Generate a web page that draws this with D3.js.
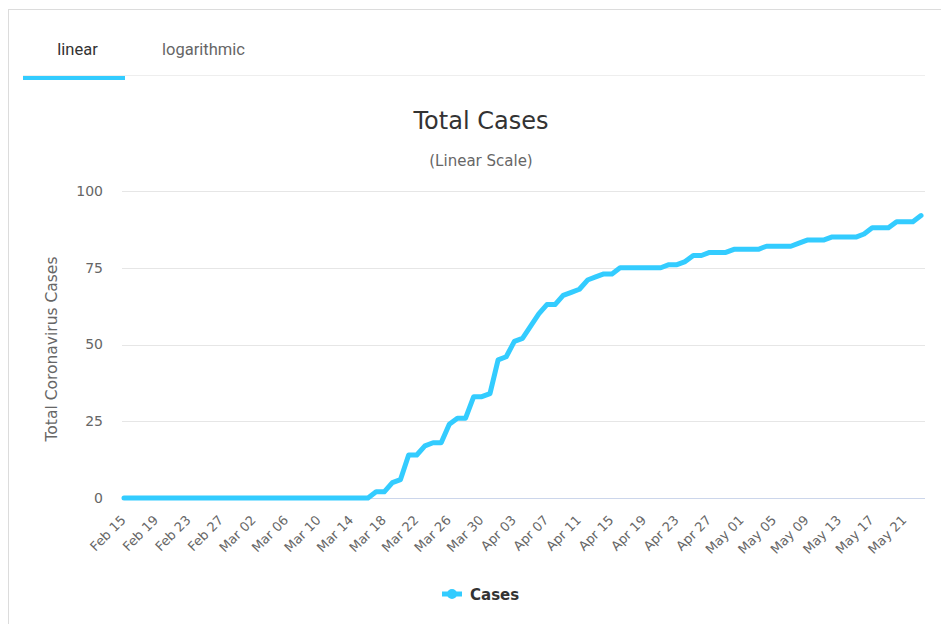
<!DOCTYPE html>
<html>
<head>
<meta charset="utf-8">
<script src="https://cdn.jsdelivr.net/npm/d3@7"></script>
<style>
  body { margin: 0; background: #fff; }
  svg { display: block; }
</style>
</head>
<body>
<div id="chart"></div>
<script>
// data
const startDate = "2020-02-15";
const cases = [
  0,0,0,0,0,0,0,0,0,0, 0,0,0,0,0,0,0,0,0,0, 0,0,0,0,0,0,0,0,0,0, 0,
  2,2,5,6,14,14,17,18,18,24,
  26,26,33,33,34,45,46,51,52,56,
  60,63,63,66,67,68,71,72,73,73,
  75,75,75,75,75,75,76,76,77,79,
  79,80,80,80,81,81,81,81,82,82,
  82,82,83,84,84,84,85,85,85,85,
  86,88,88,88,90,90,90,92
];
const yTicks = [0, 25, 50, 75, 100];
const tickEvery = 4;
const tabs = ["linear", "logarithmic"];
const seriesName = "Cases";

const width = 941, height = 624;
const color = "#33ccff";

const parse = d3.timeParse("%Y-%m-%d");
const t0 = parse(startDate);
const dates = cases.map((v, i) => d3.timeDay.offset(t0, i));
const data = cases.map((v, i) => ({ date: dates[i], value: v }));

const svg = d3.select("#chart").append("svg")
    .attr("width", width)
    .attr("height", height)
    .attr("viewBox", [0, 0, width, height]);

// outer frame
svg.append("rect")
    .attr("x", 8.5).attr("y", 9.5)
    .attr("width", 940).attr("height", 620)
    .attr("fill", "none")
    .attr("stroke", "#dcdcdc");

// tabs
svg.append("line")
    .attr("x1", 23).attr("x2", 925)
    .attr("y1", 75.5).attr("y2", 75.5)
    .attr("stroke", "#eeeeee");
svg.append("rect")
    .attr("x", 23).attr("y", 76)
    .attr("width", 102).attr("height", 4)
    .attr("fill", color);
svg.selectAll(".tab")
    .data(tabs)
    .enter()
    .append("text")
    .attr("x", (d, i) => i === 0 ? 77.5 : 203.5)
    .attr("y", 55)
    .attr("text-anchor", "middle")
    .style("font-family", "Roboto, sans-serif")
    .style("font-size", "16.5px")
    .attr("fill", (d, i) => i === 0 ? "#333" : "#666")
    .text(d => d);

const fontFam = "'DejaVu Sans', Verdana, sans-serif";

// title
svg.append("text")
    .attr("x", 481).attr("y", 129)
    .attr("text-anchor", "middle")
    .style("font-family", fontFam)
    .style("font-size", "24px")
    .attr("fill", "#333")
    .text("Total Cases");
svg.append("text")
    .attr("x", 481).attr("y", 166)
    .attr("text-anchor", "middle")
    .style("font-family", fontFam)
    .style("font-size", "15px")
    .attr("fill", "#666")
    .text("(Linear Scale)");

const x = d3.scaleTime()
    .domain([dates[0], dates[dates.length - 1]])
    .range([124, 921]);
const y = d3.scaleLinear()
    .domain([0, 100])
    .range([498, 191]);

// gridlines
svg.append("g")
    .selectAll("line")
    .data(yTicks.filter(d => d > 0))
    .enter()
    .append("line")
    .attr("x1", 122).attr("x2", 925)
    .attr("y1", d => Math.round(y(d)) + 0.5)
    .attr("y2", d => Math.round(y(d)) + 0.5)
    .attr("stroke", "#e6e6e6");

// y axis
const yAxis = svg.append("g")
    .attr("transform", "translate(103,0)")
    .call(d3.axisLeft(y).tickValues(yTicks).tickSize(0).tickPadding(0));
yAxis.select(".domain").remove();
yAxis.selectAll("text")
    .style("font-family", fontFam)
    .style("font-size", "14px")
    .attr("fill", "#666");

svg.append("text")
    .attr("transform", "translate(57,349) rotate(-90)")
    .attr("text-anchor", "middle")
    .style("font-family", fontFam)
    .style("font-size", "15.5px")
    .attr("fill", "#666")
    .text("Total Coronavirus Cases");

// x axis
const xTicks = dates.filter((d, i) => i % tickEvery === 0);
const xAxis = svg.append("g")
    .attr("transform", "translate(0,498)")
    .call(d3.axisBottom(x).tickValues(xTicks).tickFormat(d3.timeFormat("%b %d")).tickSize(0));
xAxis.select(".domain")
    .attr("d", "M122,0.5H925")
    .attr("stroke", "#ccd6eb");
xAxis.selectAll("text")
    .attr("y", 0).attr("dy", 0)
    .attr("transform", "translate(2,23) rotate(-45)")
    .attr("text-anchor", "end")
    .style("font-family", fontFam)
    .style("font-size", "13px")
    .attr("fill", "#666");

// series line
const line = d3.line()
    .x(d => x(d.date))
    .y(d => y(d.value));
svg.append("path")
    .datum(data)
    .attr("d", line)
    .attr("fill", "none")
    .attr("stroke", color)
    .attr("stroke-width", 5)
    .attr("stroke-linejoin", "round")
    .attr("stroke-linecap", "round");

// legend
const lg = svg.append("g").attr("transform", "translate(442,594)");
lg.append("line")
    .attr("x1", 0).attr("x2", 20)
    .attr("y1", 0).attr("y2", 0)
    .attr("stroke", color)
    .attr("stroke-width", 5);
lg.append("circle")
    .attr("cx", 10).attr("cy", 0).attr("r", 5)
    .attr("fill", color);
lg.append("text")
    .attr("x", 28).attr("y", 5.5)
    .style("font-family", fontFam)
    .style("font-size", "15px")
    .style("font-weight", "bold")
    .attr("fill", "#333")
    .text(seriesName);
</script>
</body>
</html>
